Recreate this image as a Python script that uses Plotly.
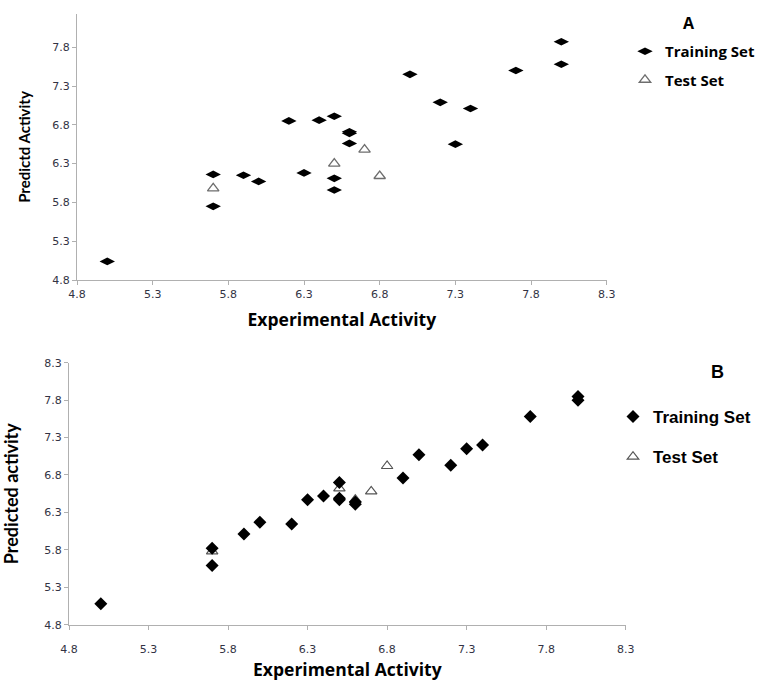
import plotly.graph_objects as go

# Panel A data
a_train_x = [5.0, 5.7, 5.7, 5.9, 6.0, 6.2, 6.3, 6.4, 6.5, 6.5, 6.5, 6.6, 6.6, 6.6, 7.0, 7.2, 7.3, 7.4, 7.7, 8.0, 8.0]
a_train_y = [5.04, 6.16, 5.75, 6.15, 6.07, 6.85, 6.18, 6.86, 6.91, 6.11, 5.96, 6.71, 6.69, 6.56, 7.45, 7.09, 6.55, 7.01, 7.50, 7.87, 7.58]
a_test_x = [5.7, 6.5, 6.7, 6.8]
a_test_y = [5.98, 6.30, 6.48, 6.14]

# Panel B data
b_train_x = [5.0, 5.7, 5.7, 5.9, 6.0, 6.2, 6.3, 6.4, 6.5, 6.5, 6.5, 6.6, 6.6, 6.9, 7.0, 7.2, 7.3, 7.4, 7.7, 8.0, 8.0]
b_train_y = [5.08, 5.82, 5.59, 6.01, 6.17, 6.145, 6.47, 6.52, 6.70, 6.49, 6.47, 6.44, 6.41, 6.76, 7.07, 6.93, 7.15, 7.20, 7.58, 7.85, 7.80]
b_test_x = [5.7, 6.5, 6.6, 6.7, 6.8]
b_test_y = [5.78, 6.62, 6.47, 6.58, 6.92]

ticks = [4.8, 5.3, 5.8, 6.3, 6.8, 7.3, 7.8, 8.3]
tick_text = ["4.8", "5.3", "5.8", "6.3", "6.8", "7.3", "7.8", "8.3"]

W, H = 760, 681
def px_x(p):
    return p / W
def px_y(p):
    return 1 - p / H

fig = go.Figure()

# Test sets drawn first so training diamonds sit on top
fig.add_trace(go.Scatter(x=a_test_x, y=a_test_y, mode="markers", name="<b>Test Set</b>",
                         marker=dict(symbol="triangle-up-open", size=10, color="#6e6e6e", line=dict(width=1.3)),
                         xaxis="x", yaxis="y", legend="legend", legendrank=2, legendgroup="a2"))
fig.add_trace(go.Scatter(x=a_train_x, y=a_train_y, mode="markers", name="<b>Training Set</b>",
                         marker=dict(symbol="diamond-wide", size=11, color="black"),
                         xaxis="x", yaxis="y", legend="legend", legendrank=1, legendgroup="a1"))
fig.add_trace(go.Scatter(x=b_test_x, y=b_test_y, mode="markers", name="<b>Test Set</b>",
                         marker=dict(symbol="triangle-up-open", size=10, color="#555555", line=dict(width=1.2)),
                         xaxis="x2", yaxis="y2", legend="legend2", legendrank=2, legendgroup="b2"))
fig.add_trace(go.Scatter(x=b_train_x, y=b_train_y, mode="markers", name="<b>Training Set</b>",
                         marker=dict(symbol="diamond", size=10, color="black"),
                         xaxis="x2", yaxis="y2", legend="legend2", legendrank=1, legendgroup="b1"))

tickfont = dict(family="DejaVu Sans", size=11, color="#333344")
axis_common = dict(showgrid=False, zeroline=False, showline=True, linecolor="#b0b0b0", linewidth=1.3,
                   ticks="outside", ticklen=4, tickcolor="#b0b0b0", tickwidth=1.3, automargin=False,
                   tickmode="array", tickvals=ticks, ticktext=tick_text, tickfont=tickfont)

fig.update_layout(
    width=W, height=H, margin=dict(l=0, r=0, t=0, b=0, autoexpand=False),
    paper_bgcolor="white", plot_bgcolor="white",
    xaxis=dict(axis_common, domain=[px_x(77), px_x(606.7)], range=[4.8, 8.3], anchor="y",
               title=dict(text="<b>Experimental Activity</b>", font=dict(family="Open Sans", size=17.5, color="black"), standoff=13)),
    yaxis=dict(axis_common, domain=[px_y(280), px_y(14)], range=[4.8, 4.8 + 266 / 77.6], anchor="x",
               tickvals=ticks[:-1], ticktext=tick_text[:-1],
               title=dict(text="<b>Predictd Activity</b>", font=dict(family="Lato", size=15, color="black"), standoff=17)),
    xaxis2=dict(axis_common, domain=[px_x(69), px_x(625.7)], range=[4.8, 8.3], anchor="y2",
                ticklabelstandoff=10,
                title=dict(text="<b>Experimental Activity</b>", font=dict(family="Open Sans", size=17.5, color="black"), standoff=18)),
    yaxis2=dict(axis_common, domain=[px_y(624.7), px_y(362.7)], range=[4.8, 8.3], anchor="x2",
                title=dict(text="<b>Predicted activity</b>", font=dict(family="Lato", size=18, color="black"), standoff=20)),
    legend=dict(x=1, y=px_y(35), xanchor="right", yanchor="top", bgcolor="rgba(0,0,0,0)",
                font=dict(family="Open Sans", size=15, color="black"), traceorder="grouped", tracegroupgap=6,
                itemwidth=30),
    legend2=dict(x=px_x(756), y=px_y(399), xanchor="right", yanchor="top", bgcolor="rgba(0,0,0,0)",
                 font=dict(family="Liberation Sans", size=17, color="black"), traceorder="grouped", tracegroupgap=15,
                 itemwidth=30),
    annotations=[
        dict(text="<b>A</b>", x=px_x(689), y=px_y(23), xref="paper", yref="paper", showarrow=False,
             xanchor="center", yanchor="middle",
             font=dict(family="Open Sans", size=16, color="black")),
        dict(text="<b>B</b>", x=px_x(717), y=px_y(372), xref="paper", yref="paper", showarrow=False,
             xanchor="center", yanchor="middle",
             font=dict(family="Liberation Sans", size=18, color="black")),
    ],
)

fig.write_html("out.html")
